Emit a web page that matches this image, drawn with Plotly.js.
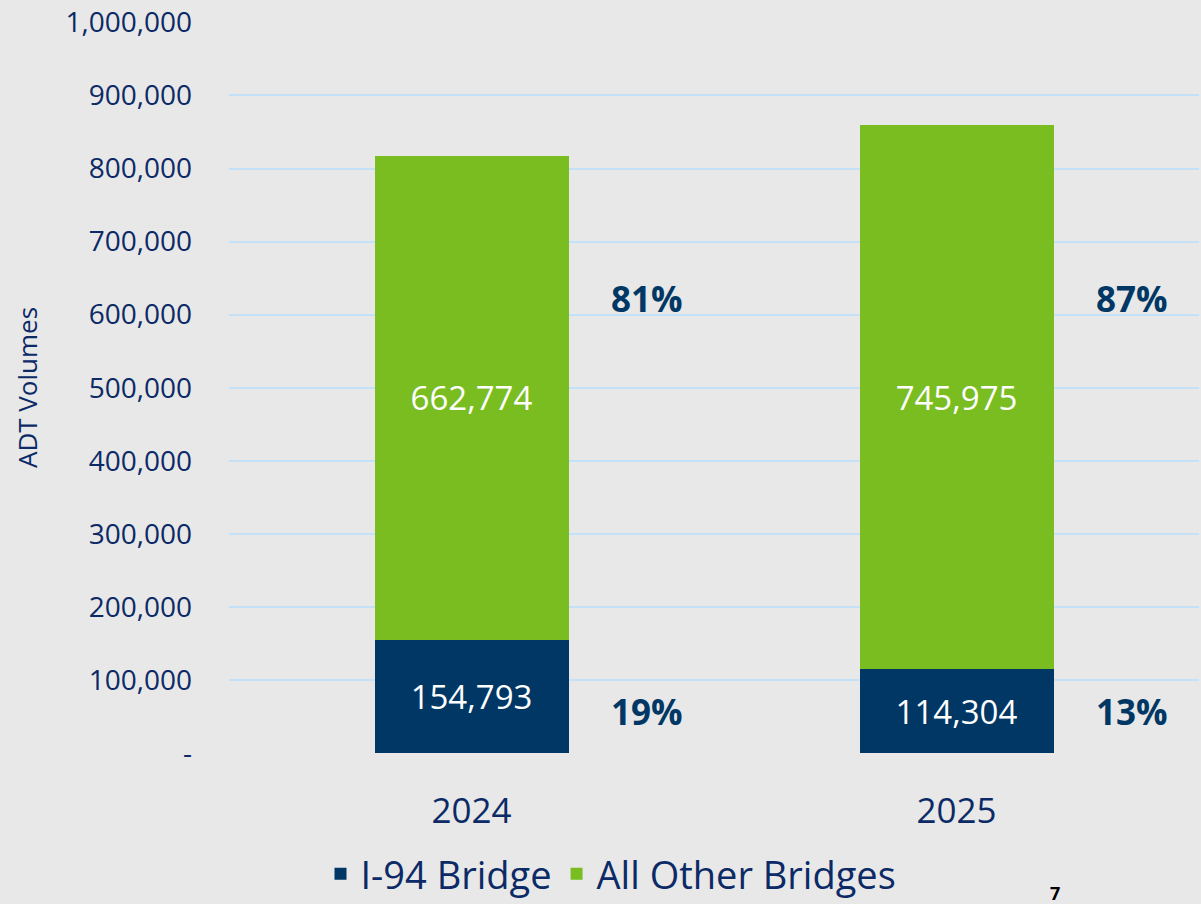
<!DOCTYPE html>
<html>
<head>
<meta charset="utf-8">
<script src="https://cdn.plot.ly/plotly-3.0.1.min.js"></script>
<style>
  html, body { margin: 0; padding: 0; background: #e8e8e8; }
  #chart { width: 1201px; height: 904px; }
</style>
</head>
<body>
<div id="chart"></div>
<script>
// ---- data ----
const years = ['2024', '2025'];
const i94Bridge = [154793, 114304];
const allOtherBridges = [662774, 745975];
const seriesNames = ['I-94 Bridge', 'All Other Bridges'];
const yTickValues = [0, 100000, 200000, 300000, 400000, 500000, 600000, 700000, 800000, 900000, 1000000];
const yTickLabels = ['-', '100,000', '200,000', '300,000', '400,000', '500,000', '600,000', '700,000', '800,000', '900,000', '1,000,000'];

// ---- styles ----
const NAVY = '#003764';
const GREEN = '#79BD21';
const TEXT = '#0b2a66';
const FONT = 'Open Sans, Noto Sans, Liberation Sans, sans-serif';

function fmt(v) { return v.toLocaleString('en-US'); }

const traces = [
  {
    type: 'bar', name: seriesNames[0], x: years, y: i94Bridge,
    marker: { color: NAVY },
    text: i94Bridge.map(fmt), textposition: 'inside', insidetextanchor: 'middle',
    textfont: { color: '#ffffff', size: 33, family: FONT },
    hoverinfo: 'x+y+name'
  },
  {
    type: 'bar', name: seriesNames[1], x: years, y: allOtherBridges,
    marker: { color: GREEN },
    text: allOtherBridges.map(fmt), textposition: 'inside', insidetextanchor: 'middle',
    textfont: { color: '#ffffff', size: 33, family: FONT },
    hoverinfo: 'x+y+name'
  }
];

// percentage annotations derived from the data
const annotations = [];
years.forEach((yr, i) => {
  const total = i94Bridge[i] + allOtherBridges[i];
  const pOther = Math.round(allOtherBridges[i] / total * 100) + '%';
  const pI94 = Math.round(i94Bridge[i] / total * 100) + '%';
  annotations.push({
    xref: 'x', yref: 'y', x: i, y: 622000, xshift: 175, text: '<b>' + pOther + '</b>',
    showarrow: false, font: { size: 35, color: NAVY, family: FONT }
  });
  annotations.push({
    xref: 'x', yref: 'y', x: i, y: 57000, xshift: 175, text: '<b>' + pI94 + '</b>',
    showarrow: false, font: { size: 35, color: NAVY, family: FONT }
  });
});
// slide number at bottom
annotations.push({
  xref: 'paper', yref: 'paper', x: (1055 - 229) / 970, y: -(879 - 753) / 733,
  xanchor: 'center', yanchor: 'top', text: '<b>7</b>', showarrow: false,
  font: { size: 18, color: '#000000', family: FONT }
});

const layout = {
  width: 1201, height: 904,
  paper_bgcolor: '#e8e8e8', plot_bgcolor: '#e8e8e8',
  margin: { l: 229, r: 2, t: 20, b: 151 },
  barmode: 'stack', bargap: 0.6,
  showlegend: true,
  legend: {
    orientation: 'h', traceorder: 'normal', xref: 'paper', yref: 'container',
    x: (611 - 229) / 970, xanchor: 'center',
    y: (904 - 874) / 904, yanchor: 'middle',
    font: { size: 38, color: TEXT, family: FONT },
    bgcolor: 'rgba(0,0,0,0)', itemclick: false
  },
  xaxis: {
    type: 'category', range: [-0.5, 1.5], automargin: false,
    showgrid: false, zeroline: false, showline: false,
    ticks: '', ticklabelstandoff: 34,
    tickfont: { size: 35, color: TEXT, family: FONT }
  },
  yaxis: {
    range: [0, 1000600], automargin: true,
    tickmode: 'array', tickvals: yTickValues, ticktext: yTickLabels,
    showgrid: true, gridcolor: '#c5e1f8', gridwidth: 2,
    zeroline: false, showline: false, ticks: '', ticklabelstandoff: 36,
    tickfont: { size: 28, color: TEXT, family: FONT },
    title: { text: 'ADT Volumes', standoff: 20, font: { size: 26, color: TEXT, family: FONT } }
  },
  annotations: annotations,
  font: { family: FONT, color: TEXT }
};

Plotly.newPlot('chart', traces, layout, { displayModeBar: false, staticPlot: true });
</script>
</body>
</html>
